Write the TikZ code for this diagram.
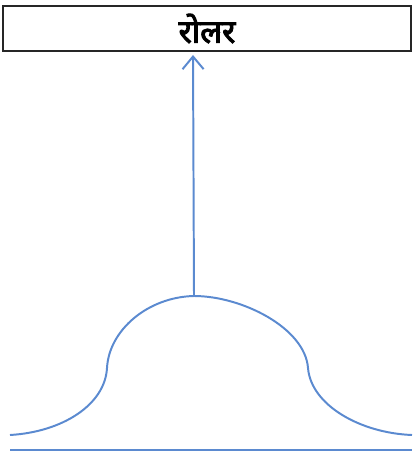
\documentclass[tikz,border=0pt]{standalone}
\usepackage{fontspec}
\usepackage{tikz}
\usetikzlibrary{arrows.meta}
\newfontfamily\devfont[Script=Devanagari,AutoFakeBold=3]{Noto Sans}
\definecolor{rollerblue}{RGB}{91,138,208}

\begin{document}
\begin{tikzpicture}[x=0.025cm,y=-0.025cm]
\tikzset{
    curveline/.style={draw=rollerblue, line width=1.4pt},
    titlebox/.style={draw=black!85, line width=1pt, minimum width=408*0.025cm,
        minimum height=45*0.025cm, inner sep=0pt}
}
\useasboundingbox (0,0) rectangle (412,451);
\node[titlebox] (title) at (207,28.5) {\devfont\bfseries\fontsize{23}{26}\selectfont रोलर};
% roller profile
\coordinate (peak) at (194,296);
\coordinate (tip) at (193,55);
\draw[curveline] (10,435) .. controls (62,432) and (105,405) .. (107,368)
    .. controls (109,330) and (148,297) .. (peak)
    .. controls (242,296) and (305,328) .. (308,368)
    .. controls (311,405) and (360,433) .. (412,435);
\draw[curveline] (10,450) -- (412,450);
\draw[curveline, -{Straight Barb[length=9pt, width=15pt]}] (peak) -- (tip);
\end{tikzpicture}
\end{document}
